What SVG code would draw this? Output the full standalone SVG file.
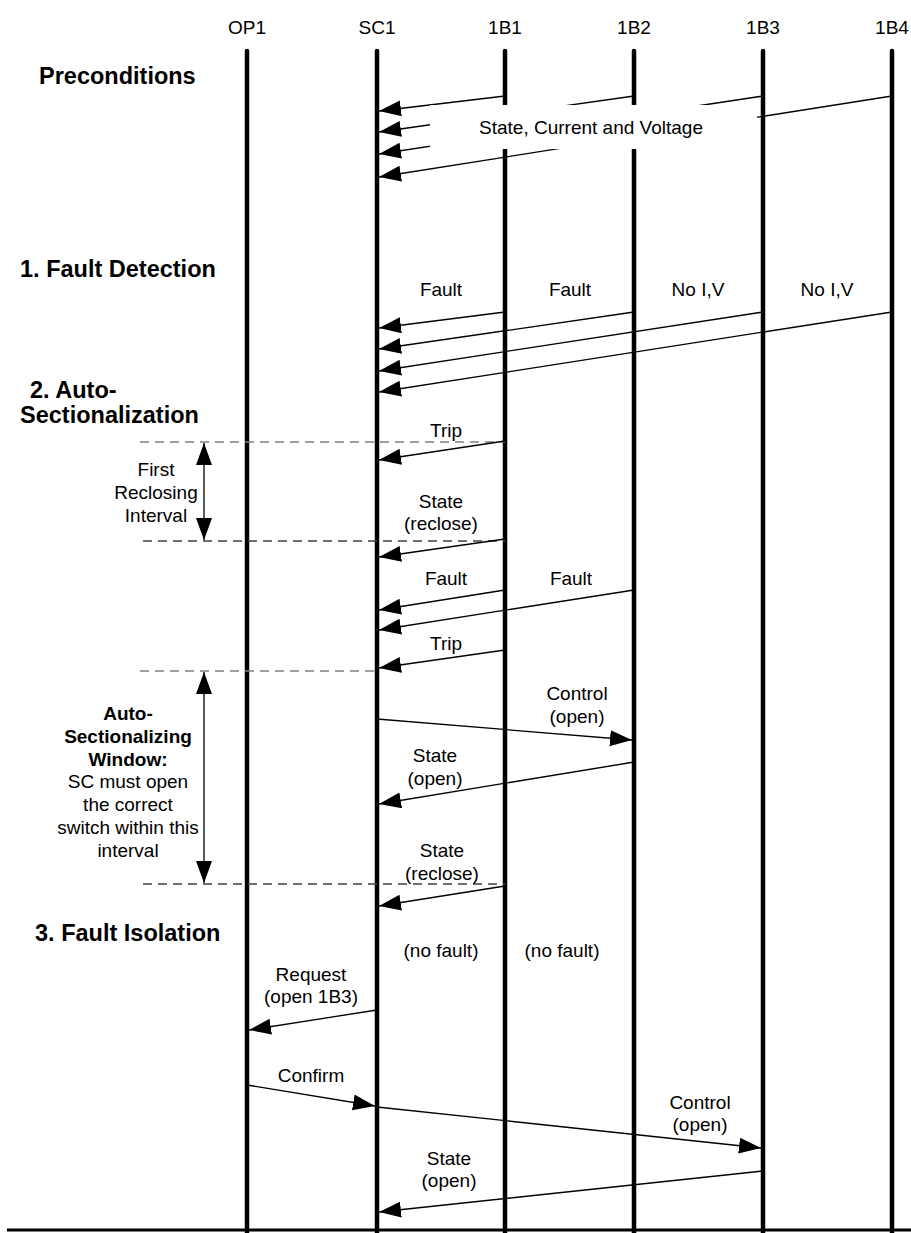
<svg xmlns="http://www.w3.org/2000/svg" width="911" height="1233" viewBox="0 0 911 1233">
<style>
text{font-family:"Liberation Sans",Arial,sans-serif;fill:#000}
.hd{font-size:19px;text-anchor:middle}
.lb{font-size:19px;text-anchor:middle}
.sec{font-size:23.5px;font-weight:bold}
.win{font-size:19px;text-anchor:middle}
.b{font-weight:bold}
.life{stroke:#000;stroke-width:4.5;stroke-linecap:round;fill:none}
.msg{stroke:#000;stroke-width:1.3;fill:none;marker-end:url(#ah)}
.dash1{stroke:#808080;stroke-width:1.5;stroke-dasharray:9,6;fill:none}
.dash2{stroke:#404040;stroke-width:1.5;stroke-dasharray:9,6;fill:none}
.dbl{stroke:#000;stroke-width:1.3;fill:none;marker-start:url(#ahs);marker-end:url(#ah2)}
</style>
<defs>
<marker id="ah" markerUnits="userSpaceOnUse" markerWidth="24" markerHeight="17" refX="22" refY="8" orient="auto" viewBox="0 0 24 17">
<path d="M0,0 L22,8 L0,16 Z" fill="#000"/>
</marker>
<marker id="ah2" markerUnits="userSpaceOnUse" markerWidth="24" markerHeight="18" refX="22" refY="8" orient="auto" viewBox="0 0 24 18">
<path d="M0,0 L22,8 L0,16 Z" fill="#000"/>
</marker>
<marker id="ahs" markerUnits="userSpaceOnUse" markerWidth="24" markerHeight="18" refX="0" refY="8" orient="auto" viewBox="0 0 24 18">
<path d="M22,0 L0,8 L22,16 Z" fill="#000"/>
</marker>
</defs>

<g id="OP1">
<text class="hd" x="247" y="34">OP1</text>
<line class="life" x1="247" y1="51" x2="247" y2="1240"/>
</g>
<g id="SC1">
<text class="hd" x="377" y="34">SC1</text>
<line class="life" x1="377" y1="51" x2="377" y2="1240"/>
</g>
<g id="1B1">
<text class="hd" x="505" y="34">1B1</text>
<line class="life" x1="505" y1="51" x2="505" y2="1240"/>
</g>
<g id="1B2">
<text class="hd" x="634" y="34">1B2</text>
<line class="life" x1="634" y1="51" x2="634" y2="1240"/>
</g>
<g id="1B3">
<text class="hd" x="763" y="34">1B3</text>
<line class="life" x1="763" y1="51" x2="763" y2="1240"/>
</g>
<g id="1B4">
<text class="hd" x="892" y="34">1B4</text>
<line class="life" x1="892" y1="51" x2="892" y2="1240"/>
</g>

<g id="baseline">
<line x1="7" y1="1230" x2="911" y2="1230" stroke="#000" stroke-width="3"/>
</g>

<g id="sections">
<text class="sec" x="39" y="84">Preconditions</text>
<text class="sec" x="20" y="277">1. Fault Detection</text>
<text class="sec" x="30" y="398">2. Auto-</text>
<text class="sec" x="20" y="423">Sectionalization</text>
<text class="sec" x="35" y="941">3. Fault Isolation</text>
</g>

<g id="intervals">
<line class="dash1" x1="140" y1="442" x2="505" y2="442"/>
<line class="dash2" x1="143" y1="541" x2="505" y2="541"/>
<line class="dash1" x1="140" y1="671" x2="377" y2="671"/>
<line class="dash2" x1="143" y1="884" x2="505" y2="884"/>
<line class="dbl" x1="204" y1="443" x2="204" y2="540"/>
<line class="dbl" x1="204" y1="672" x2="204" y2="883"/>
<text class="win" x="156" y="476">First</text>
<text class="win" x="156" y="499">Reclosing</text>
<text class="win" x="156" y="522">Interval</text>
<text class="win b" x="128" y="720">Auto-</text>
<text class="win b" x="128" y="743">Sectionalizing</text>
<text class="win b" x="128" y="766">Window:</text>
<text class="win" x="128" y="788">SC must open</text>
<text class="win" x="128" y="811">the correct</text>
<text class="win" x="128" y="834">switch within this</text>
<text class="win" x="128" y="857">interval</text>
</g>

<g id="connectors">
<line class="msg" x1="505" y1="96" x2="379" y2="111"/>
<line class="msg" x1="634" y1="96" x2="379" y2="132"/>
<line class="msg" x1="763" y1="96" x2="379" y2="154"/>
<line class="msg" x1="892" y1="96" x2="379" y2="177"/>
<rect x="430" y="105" width="327" height="44" fill="#fff"/>
<text class="lb" x="591" y="134">State, Current and Voltage</text>

<line class="msg" x1="505" y1="312" x2="379" y2="328"/>
<line class="msg" x1="634" y1="312" x2="379" y2="349"/>
<line class="msg" x1="763" y1="312" x2="379" y2="371"/>
<line class="msg" x1="892" y1="312" x2="379" y2="392"/>
<text class="lb" x="441" y="296">Fault</text>
<text class="lb" x="570" y="296">Fault</text>
<text class="lb" x="698" y="296">No I,V</text>
<text class="lb" x="827" y="296">No I,V</text>

<text class="lb" x="446" y="437">Trip</text>
<line class="msg" x1="505" y1="441" x2="379" y2="460"/>
<text class="lb" x="441" y="508">State</text>
<text class="lb" x="441" y="530">(reclose)</text>
<line class="msg" x1="505" y1="539" x2="379" y2="557"/>
<text class="lb" x="446" y="585">Fault</text>
<text class="lb" x="571" y="585">Fault</text>
<line class="msg" x1="505" y1="590" x2="379" y2="610"/>
<line class="msg" x1="634" y1="590" x2="379" y2="630"/>
<text class="lb" x="446" y="650">Trip</text>
<line class="msg" x1="505" y1="650" x2="379" y2="668"/>

<text class="lb" x="577" y="700">Control</text>
<text class="lb" x="577" y="723">(open)</text>
<line class="msg" x1="377" y1="719" x2="632" y2="740"/>
<text class="lb" x="435" y="762">State</text>
<text class="lb" x="435" y="785">(open)</text>
<line class="msg" x1="634" y1="762" x2="379" y2="804"/>
<text class="lb" x="442" y="857">State</text>
<text class="lb" x="442" y="880">(reclose)</text>
<line class="msg" x1="505" y1="886" x2="379" y2="906"/>

<text class="lb" x="441" y="957">(no fault)</text>
<text class="lb" x="562" y="957">(no fault)</text>
<text class="lb" x="311" y="981">Request</text>
<text class="lb" x="311" y="1003">(open 1B3)</text>
<line class="msg" x1="377" y1="1010" x2="249" y2="1030"/>
<text class="lb" x="311" y="1082">Confirm</text>
<line class="msg" x1="247" y1="1085" x2="375" y2="1106"/>
<line class="msg" x1="377" y1="1107" x2="761" y2="1148"/>
<text class="lb" x="700" y="1109">Control</text>
<text class="lb" x="700" y="1131">(open)</text>
<text class="lb" x="449" y="1165">State</text>
<text class="lb" x="449" y="1187">(open)</text>
<line class="msg" x1="763" y1="1171" x2="379" y2="1212"/>
</g>
</svg>
